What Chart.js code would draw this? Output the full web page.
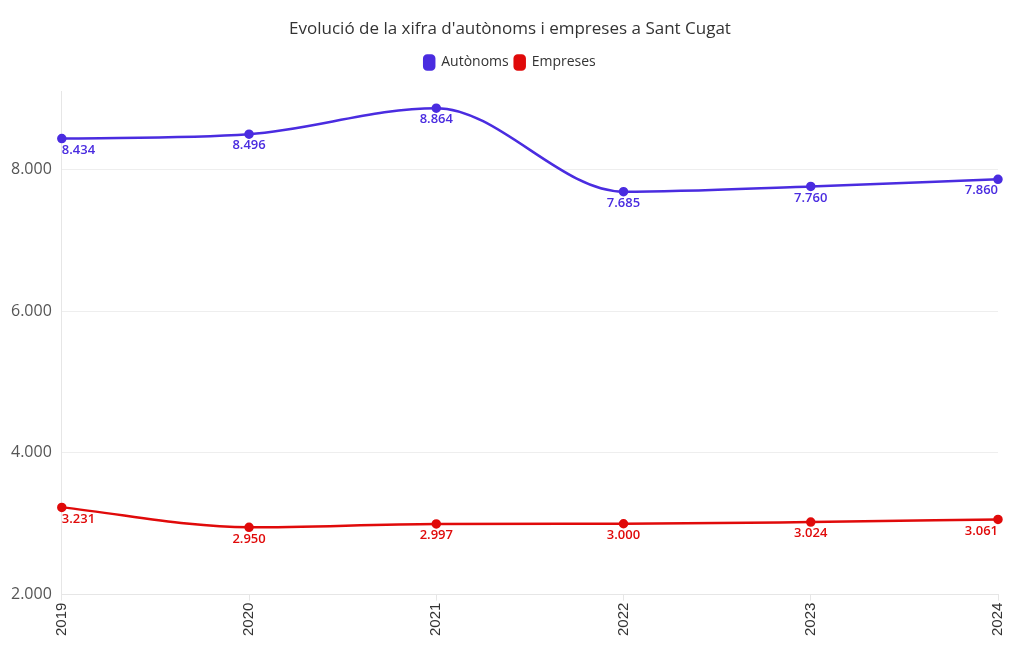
<!DOCTYPE html>
<html>
<head>
<meta charset="utf-8">
<script src="https://cdn.jsdelivr.net/npm/chart.js@4.4.1/dist/chart.umd.min.js"></script>
<style>
  html, body { margin: 0; padding: 0; background: #fff; }
  #wrap { width: 1020px; height: 650px; }
</style>
</head>
<body>
<div id="wrap"><canvas id="chart"></canvas></div>
<script>
// data
var years = ['2019', '2020', '2021', '2022', '2023', '2024'];
var autonoms = [8434, 8496, 8864, 7685, 7760, 7860];
var empreses = [3231, 2950, 2997, 3000, 3024, 3061];
var yTicks = [2000, 4000, 6000, 8000];

function fmt(v) {
    return v.toLocaleString('de-DE'); // dot as thousands separator
}

// small replacement for the datalabels plugin: value drawn under every point
var pointLabels = {
    id: 'pointLabels',
    afterDatasetsDraw: function(chart) {
        var ctx = chart.ctx;
        chart.data.datasets.forEach(function(ds, i) {
            var meta = chart.getDatasetMeta(i);
            meta.data.forEach(function(pt, j) {
                var n = meta.data.length;
                ctx.save();
                ctx.font = '600 13px "Open Sans", sans-serif';
                ctx.fillStyle = ds.borderColor;
                ctx.textBaseline = 'top';
                ctx.textAlign = j === 0 ? 'left' : (j === n - 1 ? 'right' : 'center');
                ctx.fillText(fmt(ds.data[j]), pt.x, pt.y + 5);
                ctx.restore();
            });
        });
    }
};

// extra room under the legend
var legendGap = {
    id: 'legendGap',
    beforeInit: function(chart) {
        var fit = chart.legend.fit;
        chart.legend.fit = function() {
            fit.bind(chart.legend)();
            this.height += 12;
        };
    }
};

var ctx = document.getElementById('chart').getContext('2d');
var chart = new Chart(ctx, {
    type: 'line',
    data: {
        labels: years,
        datasets: [{
            label: 'Autònoms',
            data: autonoms,
            borderColor: '#4a2ce0',
            backgroundColor: '#4a2ce0',
            borderWidth: 2.5,
            pointRadius: 3.5,
            pointHoverRadius: 3.5,
            cubicInterpolationMode: 'monotone'
        }, {
            label: 'Empreses',
            data: empreses,
            borderColor: '#e00a0a',
            backgroundColor: '#e00a0a',
            borderWidth: 2.5,
            pointRadius: 3.5,
            pointHoverRadius: 3.5,
            cubicInterpolationMode: 'monotone'
        }]
    },
    options: {
        responsive: true,
        maintainAspectRatio: false,
        animation: false,
        layout: { padding: { left: 22, right: 22, top: 11, bottom: 12 } },
        plugins: {
            title: {
                display: true,
                text: "Evolució de la xifra d'autònoms i empreses a Sant Cugat",
                color: '#333',
                font: { family: '"Open Sans", sans-serif', size: 17, weight: 'normal' },
                padding: { top: 8, bottom: 10 }
            },
            legend: {
                display: true,
                labels: {
                    color: '#333',
                    font: { family: '"Open Sans", sans-serif', size: 14 },
                    boxWidth: 10,
                    boxHeight: 14,
                    useBorderRadius: true,
                    borderRadius: 3,
                    padding: 6
                }
            },
            tooltip: { enabled: false }
        },
        scales: {
            x: {
                offset: false,
                grid: { display: true, drawOnChartArea: false, color: '#e6e6e6', tickLength: 6 },
                border: { color: '#e6e6e6' },
                ticks: {
                    color: '#333',
                    font: { family: '"Liberation Sans", Arial, sans-serif', size: 15 },
                    maxRotation: 90,
                    minRotation: 90,
                    padding: 2
                }
            },
            y: {
                min: 2000,
                max: 9100,
                afterBuildTicks: function(axis) {
                    axis.ticks = yTicks.map(function(v) { return { value: v }; });
                },
                afterFit: function(axis) {
                    axis.width -= 21; // let the labels sit in the left padding
                    axis._computeLabelArea = function() { return null; }; // and don't clip them
                },
                grid: { color: '#eeeeee', drawTicks: false },
                border: { color: '#e6e6e6' },
                ticks: {
                    color: '#555',
                    font: { family: '"Open Sans", sans-serif', size: 16 },
                    padding: 10,
                    callback: function(v) { return fmt(v); }
                }
            }
        }
    },
    plugins: [pointLabels, legendGap]
});
</script>
</body>
</html>
